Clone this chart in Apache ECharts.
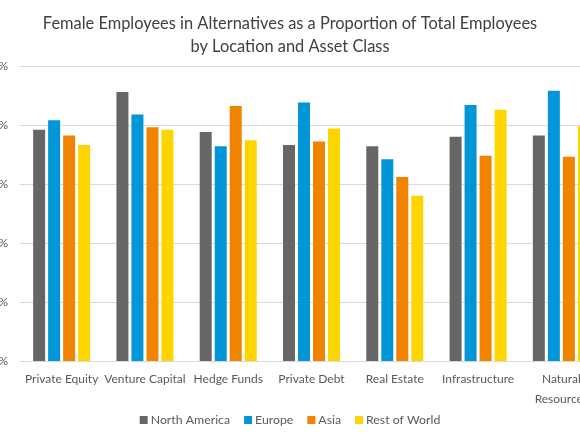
<!DOCTYPE html>
<html>
<head>
<meta charset="utf-8">
<script src="https://cdn.jsdelivr.net/npm/echarts@6/dist/echarts.min.js"></script>
<style>
  html, body { margin: 0; padding: 0; background: #fff; }
  #chart { width: 580px; height: 435px; }
</style>
</head>
<body>
<div id="chart"></div>
<script>
// asset classes along the x axis
const categories = ['Private Equity', 'Venture Capital', 'Hedge Funds', 'Private Debt', 'Real Estate', 'Infrastructure', 'Natural\nResources'];

// share of female employees, %
const northAmerica = [19.6, 22.8, 19.4, 18.3, 18.2, 19.0, 19.1];
const europe       = [20.4, 20.9, 18.2, 21.9, 17.1, 21.7, 22.9];
const asia         = [19.1, 19.8, 21.6, 18.6, 15.6, 17.4, 17.3];
const restOfWorld  = [18.3, 19.6, 18.7, 19.7, 14.0, 21.3, 19.9];

const seriesNames = ['North America', 'Europe', 'Asia', 'Rest of World'];
const colors = ['#666666', '#0096d8', '#f08300', '#ffd500'];

const myChart = echarts.init(document.getElementById('chart'));

const makeBar = (name, data) => ({
  name: name,
  type: 'bar',
  data: data,
  barWidth: 12,
  barGap: '25%'
});

const option = {
  color: colors,
  textStyle: { fontFamily: 'Lato' },
  title: {
    text: 'Female Employees in Alternatives as a Proportion of Total Employees\nby Location and Asset Class',
    left: 'center',
    top: 7,
    textStyle: {
      fontFamily: 'Lato',
      fontSize: 16.4,
      fontWeight: 'normal',
      color: '#404040',
      lineHeight: 23
    }
  },
  legend: {
    data: seriesNames,
    bottom: 4,
    left: 'center',
    itemWidth: 8,
    itemHeight: 8,
    itemGap: 14,
    icon: 'rect',
    textStyle: { fontSize: 12.3, color: '#595959', padding: [0, 0, 0, -2] }
  },
  grid: {
    left: 20,
    right: -23,
    top: 66,
    bottom: 74,
    containLabel: false,
    outerBoundsMode: 'none'
  },
  xAxis: {
    type: 'category',
    data: categories,
    axisTick: { show: false },
    axisLine: { lineStyle: { color: '#d9d9d9' } },
    axisLabel: {
      interval: 0,
      margin: 8,
      fontSize: 12,
      lineHeight: 20,
      color: '#595959'
    }
  },
  yAxis: {
    type: 'value',
    min: 0,
    max: 25,
    interval: 5,
    axisLabel: {
      formatter: '{value}%',
      fontSize: 12,
      color: '#595959',
      margin: 12
    },
    splitLine: { lineStyle: { color: '#d9d9d9' } }
  },
  series: [
    makeBar(seriesNames[0], northAmerica),
    makeBar(seriesNames[1], europe),
    makeBar(seriesNames[2], asia),
    makeBar(seriesNames[3], restOfWorld)
  ]
};

myChart.setOption(option);
</script>
</body>
</html>
